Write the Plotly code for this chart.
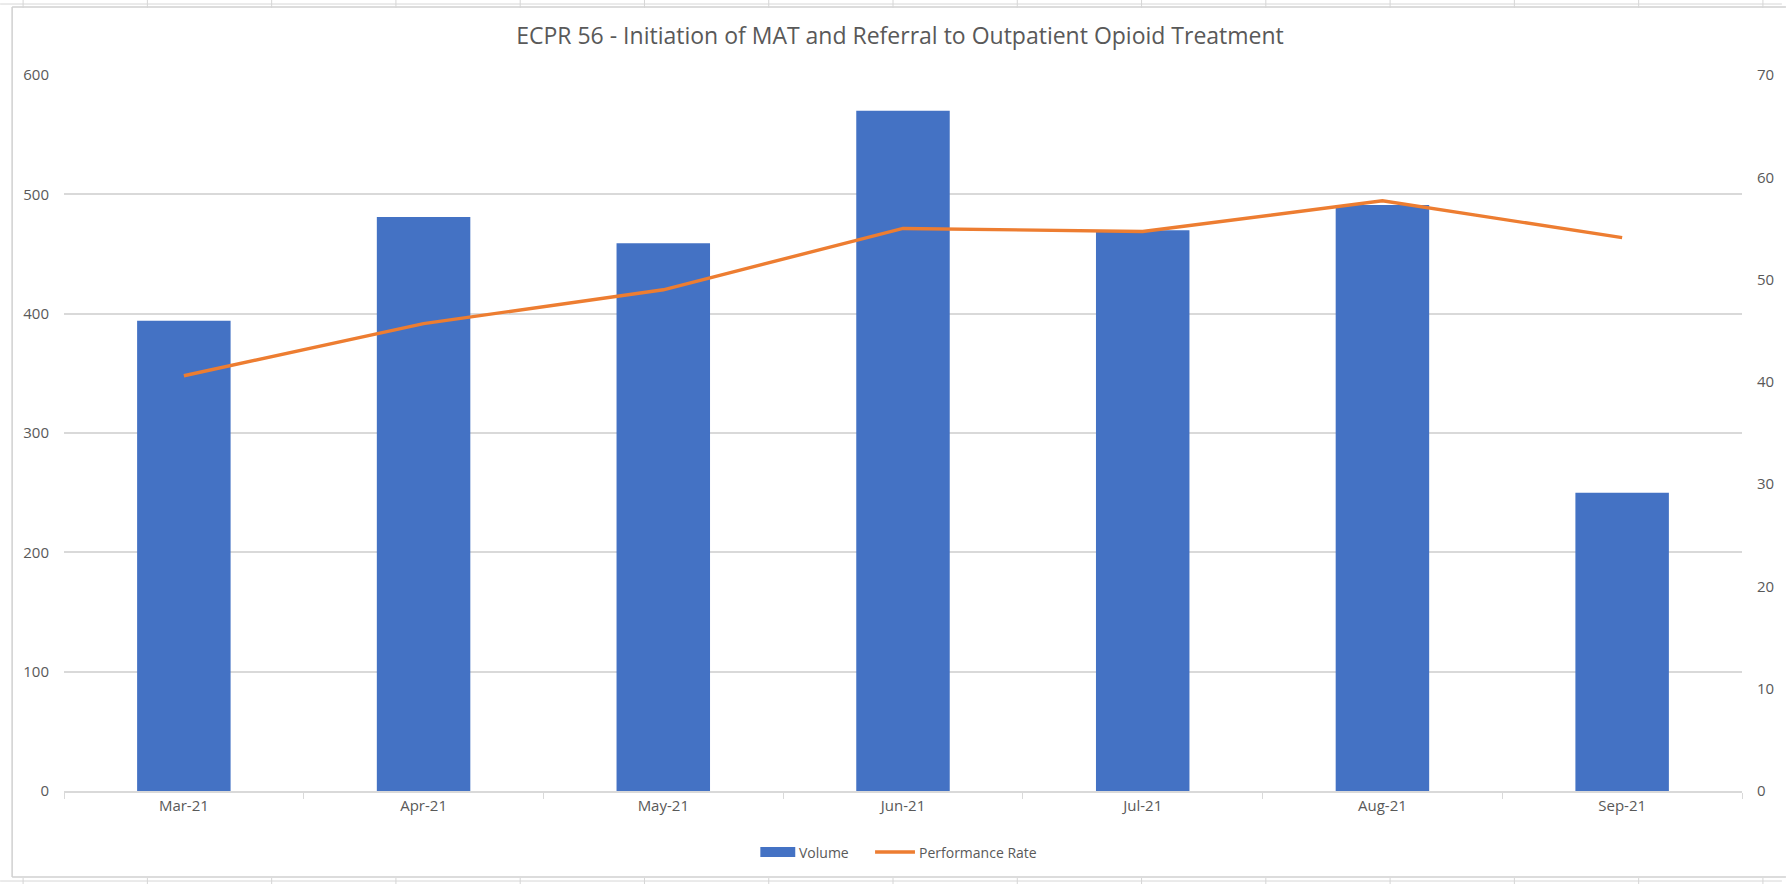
import plotly.graph_objects as go

months = ["Mar-21", "Apr-21", "May-21", "Jun-21", "Jul-21", "Aug-21", "Sep-21"]
volume = [394, 481, 459, 570, 470, 491, 250]
performance_rate = [40.6, 45.7, 49.0, 55.0, 54.7, 57.7, 54.1]

W, H = 1786, 884
L, R, T, B = 64, 1746, 75, 791

def px(x):
    return (x - L) / (R - L)

def py(y):
    return (B - y) / (B - T)

font_family = "Open Sans, Lato, sans-serif"
text_color = "#595959"
grid_color = "#D9D9D9"
bar_color = "#4472C4"
line_color = "#ED7D31"

fig = go.Figure()
fig.add_trace(go.Bar(
    x=months, y=volume, name="Volume",
    marker=dict(color=bar_color, line=dict(width=0)),
    width=0.39, yaxis="y", showlegend=False,
))
fig.add_trace(go.Scatter(
    x=months, y=performance_rate, name="Performance Rate",
    mode="lines", line=dict(color=line_color, width=3.4),
    yaxis="y2", showlegend=False,
))

shapes = []
# chart border (left, top, bottom) and spreadsheet cell lines
border = dict(type="line", xref="paper", yref="paper", line=dict(color="#D0D0D0", width=1.5))
shapes.append(dict(border, x0=px(12), x1=px(12), y0=py(7), y1=py(877)))
shapes.append(dict(border, x0=px(12), x1=px(1790), y0=py(7), y1=py(7)))
shapes.append(dict(border, x0=px(12), x1=px(1790), y0=py(877), y1=py(877)))
cell = dict(type="line", xref="paper", yref="paper", line=dict(color="#D6D6D6", width=1))
shapes.append(dict(cell, x0=px(0), x1=px(1786), y0=py(4), y1=py(4)))
shapes.append(dict(cell, x0=px(0), x1=px(1786), y0=py(881), y1=py(881)))
k = 0
while 23 + k * 124.57 < 1786:
    xx = 23 + k * 124.57
    shapes.append(dict(cell, x0=px(xx), x1=px(xx), y0=py(0), y1=py(8)))
    shapes.append(dict(cell, x0=px(xx), x1=px(xx), y0=py(878), y1=py(884)))
    k += 1

# legend drawn manually (wide swatch like the source)
shapes.append(dict(type="rect", xref="paper", yref="paper",
                   x0=px(762), x1=px(797), y0=py(847), y1=py(857),
                   fillcolor=bar_color, line=dict(width=0)))
shapes.append(dict(type="line", xref="paper", yref="paper",
                   x0=px(877), x1=px(917), y0=py(852), y1=py(852),
                   line=dict(color=line_color, width=3.4)))
annotations = [
    dict(text="Volume", xref="paper", yref="paper", x=px(799), y=py(852),
         xanchor="left", yanchor="middle", showarrow=False,
         font=dict(size=14, color=text_color, family=font_family)),
    dict(text="Performance Rate", xref="paper", yref="paper", x=px(919), y=py(852),
         xanchor="left", yanchor="middle", showarrow=False,
         font=dict(size=14, color=text_color, family=font_family)),
]

fig.update_layout(
    width=W, height=H,
    margin=dict(l=L, r=W - R, t=T, b=H - B),
    paper_bgcolor="white", plot_bgcolor="white",
    font=dict(family=font_family, color=text_color, size=15),
    title=dict(
        text="ECPR 56 - Initiation of MAT and Referral to Outpatient Opioid Treatment",
        x=900 / W, xanchor="center", y=1 - 36 / H, yanchor="middle",
        font=dict(size=23, color=text_color, family=font_family),
    ),
    showlegend=False,
    xaxis=dict(
        type="category",
        showgrid=False,
        showline=True, linecolor=grid_color, linewidth=1.5,
        ticks="outside", tickson="boundaries", ticklen=6, tickcolor=grid_color,
        tickfont=dict(size=15, color=text_color),
    ),
    yaxis=dict(
        range=[0, 600], dtick=100,
        showgrid=True, gridcolor=grid_color, gridwidth=1.5,
        zeroline=False, showline=False, ticks="",
        ticklabelstandoff=14,
        tickfont=dict(size=15, color=text_color),
    ),
    yaxis2=dict(
        range=[0, 70], dtick=10,
        overlaying="y", side="right",
        showgrid=False, zeroline=False, showline=False, ticks="",
        ticklabelstandoff=14,
        tickfont=dict(size=15, color=text_color),
    ),
    shapes=shapes,
    annotations=annotations,
)

fig.write_html(
    "out.html",
    config={"displayModeBar": False},
    post_script="document.body.style.margin='0';document.body.style.overflow='hidden';",
)
